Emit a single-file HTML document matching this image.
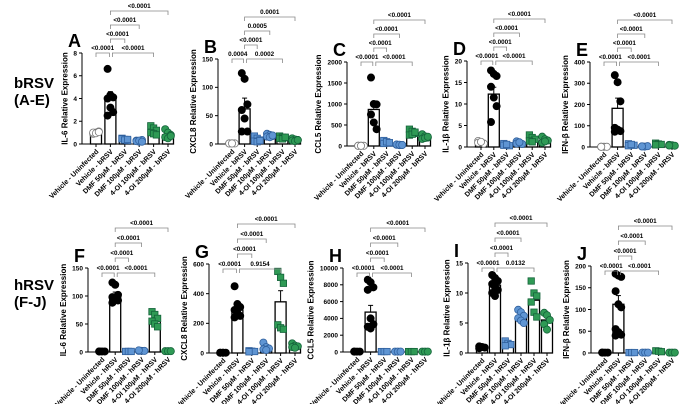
<!DOCTYPE html>
<html><head><meta charset="utf-8"><style>
html,body{margin:0;padding:0;background:#fff;}
svg{display:block;font-family:"Liberation Sans",Arial,sans-serif;}
</style></head><body>
<svg id="fig" width="686" height="404" viewBox="0 0 686 404" xmlns="http://www.w3.org/2000/svg">
<text x="14" y="88" font-size="15" font-weight="bold">bRSV</text>
<text x="14" y="105" font-size="15" font-weight="bold">(A-E)</text>
<text x="14" y="290" font-size="15" font-weight="bold">hRSV</text>
<text x="14" y="307" font-size="15" font-weight="bold">(F-J)</text>
</svg>
<script>
// ---- data ----
const catsB = ["Vehicle - Uninfected","Vehicle - bRSV","DMF 50µM - bRSV","DMF 100µM - bRSV","4-OI 100µM - bRSV","4-OI 200µM - bRSV"];
const catsH = ["Vehicle - Uninfected","Vehicle - hRSV","DMF 50µM - hRSV","DMF 100µM - hRSV","4-OI 100µM - hRSV","4-OI 200µM - hRSV"];

const aMeans=[1.0,4.1,0.4,0.3,1.1,0.8]; const aErr=[0.1,0.5,0.05,0.05,0.2,0.2];
const aPts=[[0.9,1.0,1.1,1.0,0.95,1.05],[6.6,4.3,4.1,4.0,3.2,2.8,2.5],[0.5,0.4,0.3,0.45,0.35,0.4],[0.3,0.2,0.35,0.25,0.3,0.2],[1.6,1.4,1.2,1.0,0.9,0.8],[1.3,1.0,0.8,0.6,0.5,0.7]];
const aTicks=[0,2,4,6,8]; const aP=["<0.0001","<0.0001","<0.0001","<0.0001","<0.0001"];

const bMeans=[1,62,8,15,11,7]; const bErr=[0.5,19,2,2,1.5,1];
const bPts=[[1,1,1,1,1],[125,115,70,60,45,22,22],[14,10,7,5,4,6],[18,16,14,13,12,15],[14,12,11,10,9,12],[10,8,7,6,5,7]];
const bTicks=[0,50,100,150]; const bP=["0.0004","<0.0001","0.0005","0.0001","0.0002"];

const cMeans=[5,870,90,30,310,210]; const cErr=[2,150,20,5,40,30];
const cPts=[[5,5,5,5,5],[1630,1000,990,750,560,400],[130,90,70,60,100,80],[30,20,25,35,30,25],[400,350,300,260,280,330],[280,230,200,170,190,220]];
const cTicks=[0,500,1000,1500,2000]; const cP=["<0.0001","<0.0001","<0.0001","<0.0001","<0.0001"];

const dMeans=[1.1,12.3,0.5,0.9,1.8,1.5]; const dErr=[0.3,1.6,0.1,0.15,0.3,0.3];
const dPts=[[1.4,1.1,0.8,1.0,1.2],[17.8,17,16.5,14,11.5,9.5,5.8],[0.8,0.5,0.3,0.4,0.6],[1.3,1.0,0.7,0.8,1.1],[2.8,2.2,1.8,1.4,1.2],[2.4,1.8,1.5,1.0,1.3]];
const dTicks=[0,5,10,15,20]; const dP=["<0.0001","<0.0001","<0.0001","<0.0001","<0.0001"];

const eMeans=[1,182,10,3,14,8]; const eErr=[0.5,48,3,1,2,1.5];
const ePts=[[1,1,1,1],[338,305,215,90,82,75,72],[15,10,8,6,12],[3,2,4,3],[18,14,12,10],[10,8,6,7]];
const eTicks=[0,100,200,300,400]; const eP=["<0.0001","<0.0001","<0.0001","<0.0001","<0.0001"];

const fMeans=[1,100,1,2,55,1.5]; const fErr=[0.3,7,0.3,0.5,5,0.4];
const fPts=[[1,1,1,1],[124,120,102,98,95,92,88],[1,1,1],[2,2,2,3],[72,67,60,55,50,45],[1.5,1.5,1.5]];
const fTicks=[0,50,100,150]; const fP=["<0.0001","<0.0001","<0.0001","<0.0001","<0.0001"];

const gMeans=[2,290,12,30,345,50]; const gErr=[1,20,3,10,75,8];
const gPts=[[2,2,2,2,2],[450,330,310,290,270,250,240],[15,12,10,8],[70,40,30,25,20],[550,510,470,190,170,160],[65,50,45,40,35]];
const gTicks=[0,200,400,600]; const gP=["<0.0001","<0.0001","<0.0001","<0.0001","0.9154"];

const hMeans=[50,4750,50,50,50,50]; const hErr=[10,800,10,10,10,10];
const hPts=[[50,50,50,50],[8600,8300,7700,7400,4000,3300,3000,2800],[50,50,50],[50,50,50],[50,50,50],[50,50,50]];
const hTicks=[0,2000,4000,6000,8000,10000]; const hP=["<0.0001","<0.0001","<0.0001","<0.0001","<0.0001"];

const iMeans=[1,11.3,1.5,5.9,8.8,5.5]; const iErr=[0.1,0.4,0.2,0.4,0.9,0.5];
const iPts=[[1.1,1.0,0.9,0.8],[13,12.5,12,11.5,11,10.5,10,9.5],[2.0,1.6,1.4,1.2],[7.2,6.8,6.2,5.8,5.4,5.0],[12,10,9.5,8.5,6.8,6.0],[6.7,6.3,5.5,4.8,3.9]];
const iTicks=[0,5,10,15]; const iP=["<0.0001","<0.0001","<0.0001","<0.0001","0.0132"];

const jMeans=[1,112,1,1,3,1]; const jErr=[0.5,20,0.3,0.3,1,0.3];
const jPts=[[1,1,1,1],[182,178,175,142,112,105,55,48,42,40],[1,1,1],[1,1,1],[5,4,3],[1,1,1]];
const jTicks=[0,50,100,150,200]; const jP=["<0.0001","<0.0001","<0.0001","<0.0001","<0.0001"];

// ---- layout ----
const panels=[
 {L:"A",t:"IL-6 Relative Expression",ax:82,top:53,zero:144,right:173,m:aMeans,e:aErr,p:aPts,tk:aTicks,pv:aP,c:catsB,open:true},
 {L:"B",t:"CXCL8 Relative Expression",ax:218,top:59,zero:144,right:300,m:bMeans,e:bErr,p:bPts,tk:bTicks,pv:bP,c:catsB,open:true},
 {L:"C",t:"CCL5 Relative Expression",ax:347,top:62,zero:146,right:430,m:cMeans,e:cErr,p:cPts,tk:cTicks,pv:cP,c:catsB,open:true},
 {L:"D",t:"IL-1β Relative Expression",ax:467,top:61,zero:147,right:550,m:dMeans,e:dErr,p:dPts,tk:dTicks,pv:dP,c:catsB,open:true},
 {L:"E",t:"IFN-β Relative Expression",ax:590,top:62,zero:147,right:677,m:eMeans,e:eErr,p:ePts,tk:eTicks,pv:eP,c:catsB,open:true},
 {L:"F",t:"IL-6 Relative Expression",ax:88,top:268,zero:352,right:173,m:fMeans,e:fErr,p:fPts,tk:fTicks,pv:fP,c:catsH,open:false},
 {L:"G",t:"CXCL8 Relative Expression",ax:209,top:264,zero:353,right:300,m:gMeans,e:gErr,p:gPts,tk:gTicks,pv:gP,c:catsH,open:false},
 {L:"H",t:"CCL5 Relative Expression",ax:343,top:268,zero:352,right:430,m:hMeans,e:hErr,p:hPts,tk:hTicks,pv:hP,c:catsH,open:false},
 {L:"I",t:"IL-1β Relative Expression",ax:468,top:263,zero:353,right:552,m:iMeans,e:iErr,p:iPts,tk:iTicks,pv:iP,c:catsH,open:false},
 {L:"J",t:"IFN-β Relative Expression",ax:591,top:266,zero:353,right:677,m:jMeans,e:jErr,p:jPts,tk:jTicks,pv:jP,c:catsH,open:false}
];
const svg=document.getElementById('fig');
const NS="http://www.w3.org/2000/svg";
function mk(tag,attrs,parent){const el=document.createElementNS(NS,tag);for(const k in attrs)el.setAttribute(k,attrs[k]);(parent||svg).appendChild(el);return el;}
const BLUE="#5f95d3",BLUEE="#2f5f9c",GREEN="#2f9a55",GREENE="#14633a";

panels.forEach((P,pi)=>{
 const g=mk('g',{});
 
 
 const ymax=P.tk[P.tk.length-1];
 const y=v=>P.zero-(v/ymax)*(P.zero-P.top);
 const step=(P.right-P.ax-19)/5;
 const x=i=>P.ax+14+i*step;
 const lt=mk('text',{x:P.ax-14,y:P.top-6,'font-size':18,'font-weight':'bold'},g);lt.textContent=P.L;
 
 
 const ya=mk('line',{x1:P.ax,y1:P.top,x2:P.ax,y2:P.zero,stroke:'#000','stroke-width':1},g);
 
 
 let maxw=0;
 P.tk.forEach(v=>{
  mk('line',{x1:P.ax-3,y1:y(v),x2:P.ax,y2:y(v),stroke:'#000'},g);
  const t=mk('text',{x:P.ax-5,y:y(v)+2.3,'font-size':6.5,'text-anchor':'end','font-weight':'bold'},g);t.textContent=v;
  
  
  maxw=Math.max(maxw,String(v).length);
 });
 const tx=P.ax-8-maxw*3.7-3;const ty=(P.top+P.zero)/2;
 const yt=mk('text',{x:tx,y:ty,'font-size':8,'font-weight':'bold','text-anchor':'middle',transform:`rotate(-90 ${tx} ${ty})`},g);yt.textContent=P.t;
 
 
 const xa=mk('line',{x1:P.ax,y1:P.zero,x2:P.right,y2:P.zero,stroke:'#000'},g);
 
 
 P.c.forEach((c,i)=>{
  mk('line',{x1:x(i),y1:P.zero,x2:x(i),y2:P.zero+3,stroke:'#000'},g);
  const px=x(i)+3,py=P.zero+8;
  const t=mk('text',{x:px,y:py,'font-size':7,'font-weight':'bold','text-anchor':'end',transform:`rotate(-45 ${px} ${py})`},g);t.textContent=c;
  
  
 });
 P.m.forEach((v,i)=>{
  const b=mk('rect',{x:x(i)-5.5,y:y(v),width:11,height:P.zero-y(v),fill:'#fff',stroke:'#000','stroke-width':1.3},g);
  
  
  const e=P.e[i];
  mk('line',{x1:x(i),y1:y(v),x2:x(i),y2:y(v+e),stroke:'#000'},g);
  mk('line',{x1:x(i)-2.5,y1:y(v+e),x2:x(i)+2.5,y2:y(v+e),stroke:'#000'},g);
 });
 P.p.forEach((arr,i)=>{
  arr.forEach((v,k)=>{
   const cx=x(i)+((k%3)-1)*2.8;const cy=y(v);
   let fill='#000',st='#000',sq=false;
   if(i===0&&P.open){fill='#fff';st='#777';}
   if(i===2){fill=BLUE;st=BLUEE;sq=true;}
   if(i===3){fill=BLUE;st=BLUEE;}
   if(i===4){fill=GREEN;st=GREENE;sq=true;}
   if(i===5){fill=GREEN;st=GREENE;}
   let d;
   if(sq)d=mk('rect',{x:cx-3.2,y:cy-3.2,width:6.4,height:6.4,fill:fill,stroke:st,'stroke-width':0.8},g);
   else d=mk('circle',{cx:cx,cy:cy,r:3.6,fill:fill,stroke:st,'stroke-width':0.8},g);
   
   
  });
 });
 const br=[[0,1,0,0],[1,2,1,1],[1,3,2,2],[1,5,3,3],[1,4,0,4]];
 br.forEach(([a,b,lv,pix])=>{
  const by=P.top+(pi<5?0:5)-lv*(pi<5?14:15);
  const x1=x(a)+(a===1&&lv===0?2:0), x2=x(b)-(b===1?1:0);
  mk('path',{d:`M${x1} ${by+4}V${by}H${x2}V${by+4}`,fill:'none',stroke:'#888','stroke-width':0.8},g);
  const t=mk('text',{x:(x1+x2)/2,y:by-3,'font-size':6.3,'font-weight':'bold','text-anchor':'middle'},g);t.textContent=P.pv[pix];
  
  
 });
});
</script>
</body></html>
